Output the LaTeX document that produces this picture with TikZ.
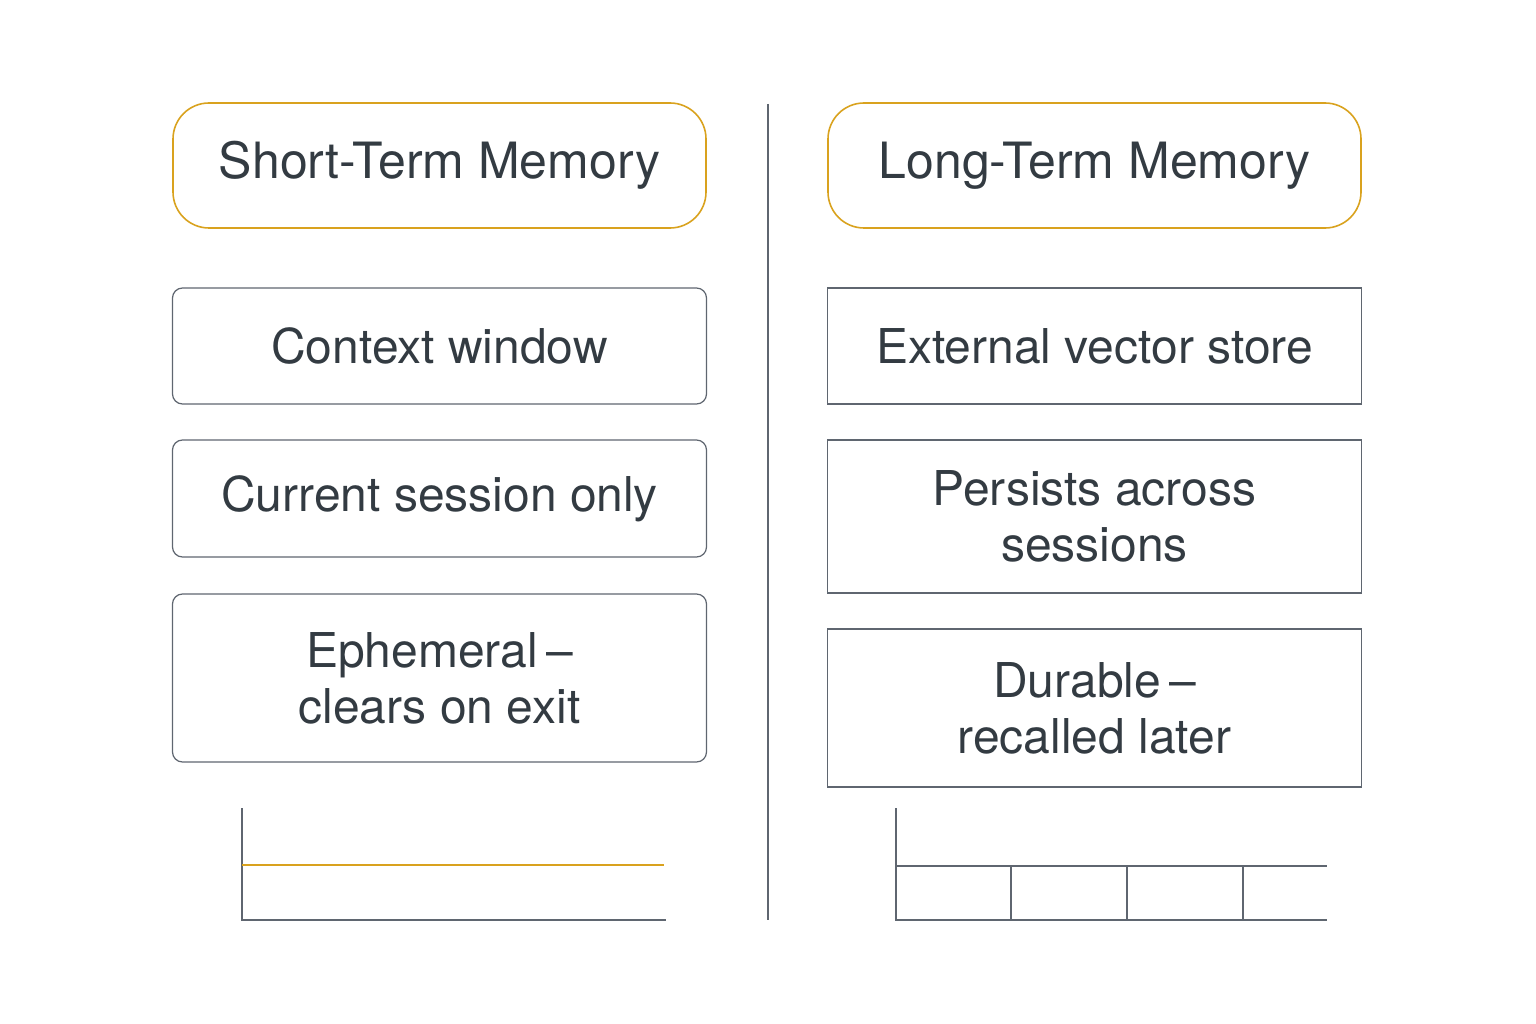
\documentclass[tikz,border=0pt]{standalone}
\usepackage{fontspec}
\setmainfont{TeX Gyre Heros}
\usetikzlibrary{positioning}
\definecolor{ink}{HTML}{333B42}
\definecolor{edge}{HTML}{5F6670}
\definecolor{gold}{HTML}{D9A21E}

\begin{document}
\begin{tikzpicture}[
  x=1pt, y=-1pt,
  head/.style={rectangle, rounded corners=36pt, draw=gold, line width=1.6pt, minimum width=533pt, minimum height=125pt, font=\fontsize{50}{58}\selectfont, text=ink},
  item/.style={rectangle, draw=edge, line width=1.2pt, minimum width=534pt, align=center, font=\fontsize{48}{56}\selectfont, text=ink},
  soft/.style={item, rounded corners=10pt},
  axis/.style={draw=edge, line width=1.2pt},
]
\useasboundingbox (0,0) rectangle (1536,1024);

% left column
\node[head] (stm) at (439.5,165.5) {Short-Term Memory};
\node[soft, minimum height=116pt] (ctx) at (439.5,346) {Context window};
\node[soft, minimum height=117pt] (sess) at (439.5,498.5) {Current session only};
\node[soft, minimum height=168pt] (eph) at (439.5,678) {Ephemeral\,--\\clears on exit};

% right column
\node[head] (ltm) at (1094.5,165.5) {Long-Term Memory};
\node[item, minimum height=116pt] (vec) at (1094.5,346) {External vector store};
\node[item, minimum height=153pt] (pers) at (1094.5,516.5) {Persists across\\sessions};
\node[item, minimum height=158pt] (dur) at (1094.5,708) {Durable\,--\\recalled later};

% divider
\coordinate (dtop) at (768,104);
\coordinate (dbot) at (768,920);
\draw[axis] (dtop) -- (dbot);

% left sketch
\coordinate (la) at (242,808);
\coordinate (lo) at (242,920);
\coordinate (lr) at (666,920);
\coordinate (lm) at (242,865);
\coordinate (lme) at (664,865);
\draw[axis] (la) -- (lo) -- (lr);
\draw[gold, line width=1.6pt] (lm) -- (lme);

% right sketch
\coordinate (ra) at (896,808);
\coordinate (ro) at (896,920);
\coordinate (rr) at (1327,920);
\coordinate (rm) at (896,866);
\coordinate (rme) at (1327,866);
\draw[axis] (ra) -- (ro) -- (rr);
\draw[axis] (rm) -- (rme);
\foreach \x in {1011,1127,1243}
  \draw[axis] (\x,866) -- (\x,920);
\end{tikzpicture}
\end{document}
